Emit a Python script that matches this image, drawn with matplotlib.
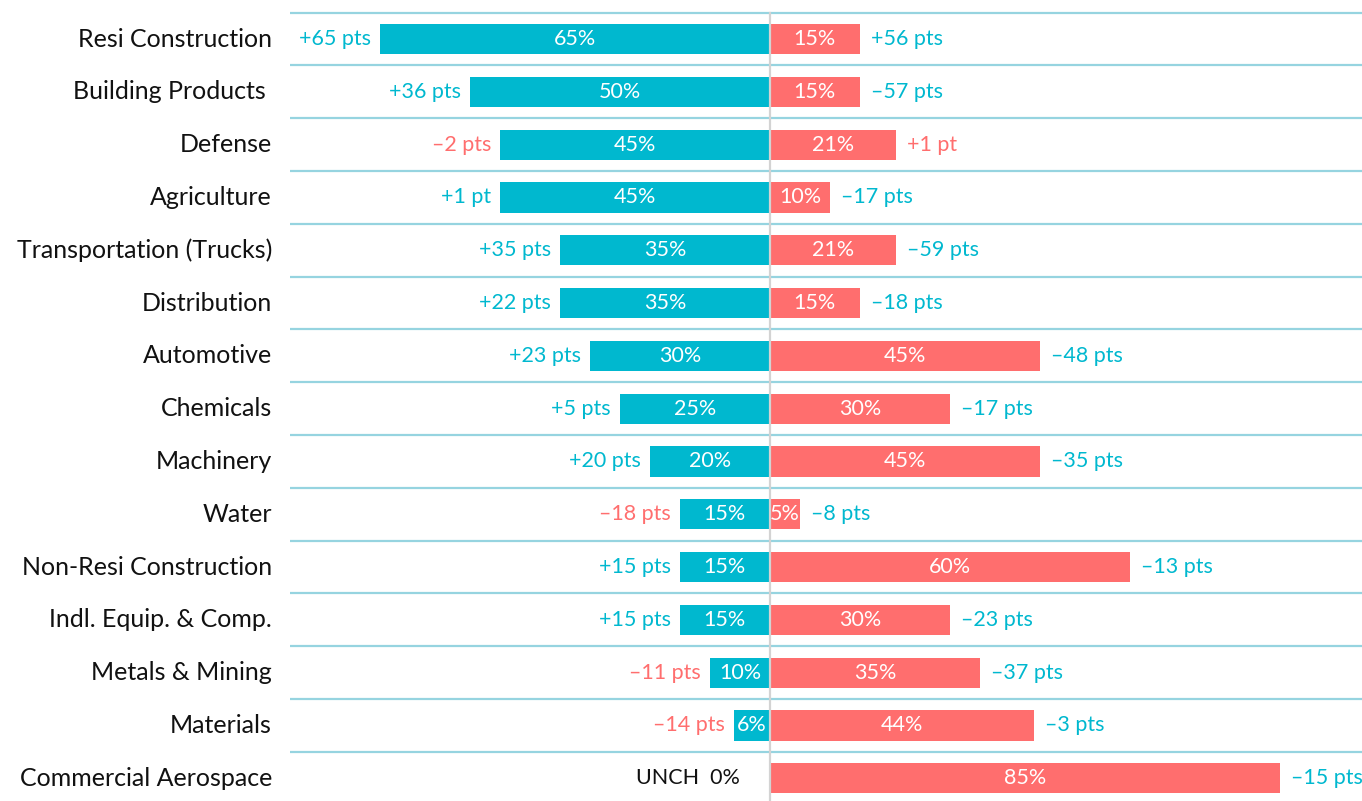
import matplotlib.pyplot as plt

plt.rcParams['font.family'] = ['Lato', 'DejaVu Sans']

# sector data, top to bottom
sectors = ["Resi Construction", "Building Products ", "Defense", "Agriculture",
           "Transportation (Trucks)", "Distribution", "Automotive", "Chemicals",
           "Machinery", "Water", "Non-Resi Construction", "Indl. Equip. & Comp.",
           "Metals & Mining", "Materials", "Commercial Aerospace"]

left_pct = [65, 50, 45, 45, 35, 35, 30, 25, 20, 15, 15, 15, 10, 6, 0]
right_pct = [15, 15, 21, 10, 21, 15, 45, 30, 45, 5, 60, 30, 35, 44, 85]

left_chg = [65, 36, -2, 1, 35, 22, 23, 5, 20, -18, 15, 15, -11, -14, 0]
right_chg = [56, -57, 1, -17, -59, -18, -48, -17, -35, -8, -13, -23, -37, -3, -15]

# whether the change is read as favourable
left_good = [c > 0 for c in left_chg]
right_good = [True, True, False, True, True, True, True, True, True, True,
              True, True, True, True, True]

TEAL = '#00B8CF'
CORAL = '#FF6E6E'
GRID = '#96D4E0'


def pts_label(c):
    sign = '+' if c > 0 else '\u2013'
    unit = 'pt' if abs(c) == 1 else 'pts'
    return f"{sign}{abs(c)} {unit}"


fig = plt.figure(figsize=(13.62, 8.01), dpi=100)
ax = fig.add_axes([290 / 1362, 0, 1072 / 1362, 1])
ax.set_xlim(-80, 98.7)
ax.set_ylim(14.43, -0.74)
ax.axis('off')

n = len(sectors)
y = list(range(n))

# row separators and centre line
for i in range(n):
    ax.axhline(i - 0.5, color=GRID, lw=1.6, zorder=1)
ax.plot([0, 0], [-0.5, 14.43], color='#D3D3D3', lw=1.6, zorder=3)

ax.barh(y, [-v for v in left_pct], height=0.57, color=TEAL, zorder=2)
ax.barh(y, right_pct, height=0.57, color=CORAL, zorder=2)

txt = dict(fontsize=15.5, va='center')
for i in range(n):
    ax.text(-83, i, sectors[i], ha='right', color='#111111', clip_on=False,
            fontsize=18, va='center')

    # left side
    if left_pct[i] > 0:
        ax.text(-left_pct[i] / 2, i, f"{left_pct[i]}%", ha='center',
                color='white', **txt)
        ax.text(-left_pct[i] - 1.5, i, pts_label(left_chg[i]), ha='right',
                color=TEAL if left_good[i] else CORAL, **txt)
    else:
        ax.text(-5, i, "UNCH  0%", ha='right', color='#111111', **txt)

    # right side
    ax.text(right_pct[i] / 2, i, f"{right_pct[i]}%", ha='center',
            color='white', **txt)
    ax.text(right_pct[i] + 1.8, i, pts_label(right_chg[i]), ha='left',
            color=TEAL if right_good[i] else CORAL, **txt)

fig.savefig('out.png', dpi=100)
